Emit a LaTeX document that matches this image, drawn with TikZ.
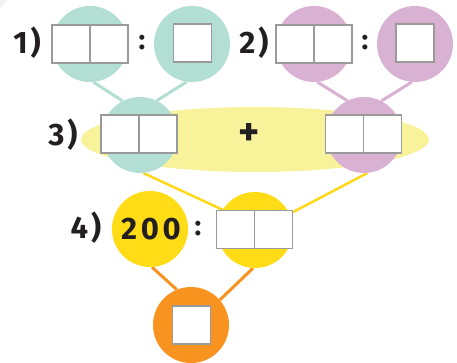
\documentclass[tikz,border=0pt]{standalone}
\usepackage{fontspec}
\setmainfont{Fira Sans}
\usetikzlibrary{shapes.geometric}
\definecolor{cTeal}{HTML}{B3DED3}
\definecolor{cPink}{HTML}{D9B1D3}
\definecolor{cEll}{HTML}{F8F29B}
\definecolor{cYel}{HTML}{FFDC15}
\definecolor{cYelLine}{HTML}{FFD81A}
\definecolor{cOra}{HTML}{F7931E}
\definecolor{cBox}{HTML}{9A9A9A}
\definecolor{cTxt}{HTML}{231F20}
\tikzset{
  circ/.style={circle, minimum size=76pt, inner sep=0pt},
  sbox/.style={draw=cBox, line width=1.5pt, fill=white, minimum width=38pt, minimum height=38pt, inner sep=0pt},
  lab/.style={font=\fontsize{31}{31}\selectfont\bfseries, text=cTxt, inner sep=0pt},
  sym/.style={font=\fontsize{28}{28}\selectfont\bfseries, text=cTxt, inner sep=0pt},
  conn/.style={line width=3pt},
}
\begin{document}
\begin{tikzpicture}[x=1pt,y=-1pt]
\useasboundingbox (0,0) rectangle (457,363);
\fill[gray!10] (0,0) -- (8,0) -- (0,9) -- cycle;
% circles as coordinates for connectors
\node[circ] (t1) at (90,44) {};
\node[circ] (t2) at (192,44) {};
\node[circ] (p1) at (314,44) {};
\node[circ] (p2) at (415,44) {};
\node[circ] (t3) at (140,135) {};
\node[circ] (p3) at (364,135) {};
\node[circ] (y1) at (150,229) {};
\node[circ] (y2) at (255,230) {};
\node[circ] (o) at (191,325) {};
% connectors
\draw[conn, cTeal] (t1.-85) -- (t3.117);
\draw[conn, cTeal] (t2.-98) -- (t3.64);
\draw[conn, cPink] (p1.-85) -- (p3.116);
\draw[conn, cPink] (p2.-95) -- (p3.63);
\draw[conn, cYelLine, line width=2.5pt] (t3.-85) -- (y2.148);
\draw[conn, cYelLine, line width=2.5pt] (p3.-85) -- (y2.25);
\draw[conn, cOra] (y1.-87) -- (o.112);
\draw[conn, cOra] (y2.-93) -- (o.41);
% ellipse
\node[ellipse, fill=cEll, minimum width=348pt, minimum height=65pt, inner sep=0pt] (el) at (255,139.5) {};
% circle fills
\fill[cTeal] (t1) circle (38);
\fill[cTeal] (t2) circle (38);
\fill[cPink] (p1) circle (38);
\fill[cPink] (p2) circle (38);
\fill[cTeal] (t3) circle (38);
\fill[cPink] (p3) circle (38);
\fill[cYel] (y1) circle (38);
\fill[cYel] (y2) circle (38);
\fill[cOra] (o) circle (38);
% boxes
\node[sbox] (t1a) at (71,44) {};
\node[sbox] (t1b) at (109,44) {};
\node[sbox] (t2a) at (192.5,43) {};
\node[sbox] (p1a) at (295,44) {};
\node[sbox] (p1b) at (333,44) {};
\node[sbox] (p2a) at (415,43) {};
\node[sbox] (t3a) at (120,134) {};
\node[sbox] (t3b) at (158,134) {};
\node[sbox] (p3a) at (344.5,134) {};
\node[sbox] (p3b) at (382.5,134) {};
\node[sbox] (y2a) at (235.5,229.5) {};
\node[sbox] (y2b) at (273.5,229.5) {};
\node[sbox] (oa) at (191.5,325) {};
% labels
\node[lab] (l1) at (27,43) {1\kern3pt)};
\node[lab] (l2) at (254,43) {2\kern3pt)};
\node[lab] (l3) at (63,135) {3\kern3pt)};
\node[lab] (l4) at (86,228) {4\kern3pt)};
\node[sym] (c1) at (142,43) {:};
\node[sym] (c2) at (365,43) {:};
\node[sym] (c4) at (198,229) {:};
\node[sym, font=\fontsize{40}{40}\selectfont\bfseries] (plus) at (249,135) {+};
\node[lab] (n200) at (151,229) {\addfontfeature{LetterSpace=12}200};
\end{tikzpicture}
\end{document}
